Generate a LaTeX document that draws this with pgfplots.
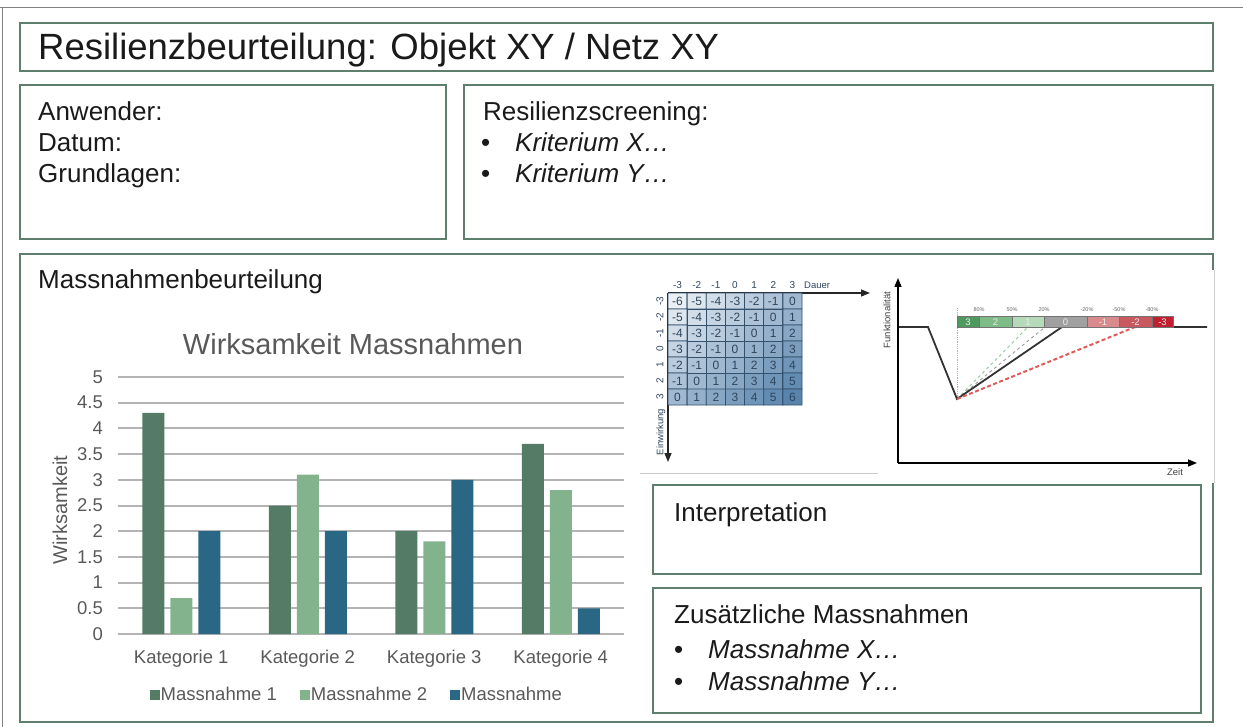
\documentclass[border=0pt]{standalone}
\usepackage{fontspec}
\setmainfont{Liberation Sans}
\usepackage{pgfplots}
\pgfplotsset{compat=1.18}
\usepackage{pgfplotstable}
\usetikzlibrary{arrows.meta}
\definecolor{boxc}{HTML}{5E7F6E}
\definecolor{framec}{HTML}{808080}
\definecolor{txt}{HTML}{1A1A1A}
\definecolor{cgray}{HTML}{595959}
\definecolor{gridc}{HTML}{B4B4B4}
\definecolor{mA}{HTML}{547B66}
\definecolor{mB}{HTML}{82B38D}
\definecolor{mC}{HTML}{2A6785}
\definecolor{cellb}{HTML}{34506B}
\definecolor{celltxt}{HTML}{2E455C}
\definecolor{s3}{HTML}{4E9A5E}
\definecolor{s2}{HTML}{7DBB87}
\definecolor{s1}{HTML}{B5D9B9}
\definecolor{s0}{HTML}{A0A0A0}
\definecolor{sm1}{HTML}{D98A8C}
\definecolor{sm2}{HTML}{C9585F}
\definecolor{sm3}{HTML}{C0202F}
\definecolor{dgreen}{HTML}{8CC896}
\definecolor{dred}{HTML}{E05A5A}

\pgfplotstableread{
x y c
0 0 -6
1 0 -5
2 0 -4
3 0 -3
4 0 -2
5 0 -1
6 0 0
0 1 -5
1 1 -4
2 1 -3
3 1 -2
4 1 -1
5 1 0
6 1 1
0 2 -4
1 2 -3
2 2 -2
3 2 -1
4 2 0
5 2 1
6 2 2
0 3 -3
1 3 -2
2 3 -1
3 3 0
4 3 1
5 3 2
6 3 3
0 4 -2
1 4 -1
2 4 0
3 4 1
4 4 2
5 4 3
6 4 4
0 5 -1
1 5 0
2 5 1
3 5 2
4 5 3
5 5 4
6 5 5
0 6 0
1 6 1
2 6 2
3 6 3
4 6 4
5 6 5
6 6 6
}\matrixdata

\newcommand{\body}{\fontsize{26}{31}\selectfont}

\begin{document}
\begin{tikzpicture}
\useasboundingbox (0,0) rectangle (1243pt,-727pt);
\begin{scope}[x=1pt,y=-1pt]
 % outer frame
 \draw[framec, line width=1.5pt] (0,7.5) -- (1243,7.5);
 \draw[framec, line width=1.5pt] (2.5,7.5) -- (2.5,727);
 % boxes
 \draw[boxc, line width=2pt] (20,23) rectangle (1213,71);
 \draw[boxc, line width=2pt] (20,85) rectangle (446,239);
 \draw[boxc, line width=2pt] (464,85) rectangle (1213,239);
 \draw[boxc, line width=2pt] (20,254) rectangle (1213,722);
 \fill[white] (1205,270) rectangle (1222,483);
 \draw[black!20, line width=0.8pt] (1214.5,270) -- (1214.5,483);
 \draw[boxc, line width=2pt] (653,485) rectangle (1201,574);
 \draw[boxc, line width=2pt] (653,588) rectangle (1201,713);
 % texts
 \node[anchor=base west, inner sep=0pt, text=txt, font=\fontsize{36.5}{44}\selectfont] at (38,60) {Resilienzbeurteilung: Objekt XY / Netz XY};
 \node[anchor=base west, inner sep=0pt, text=txt, font=\body] at (38,121) {Anwender:};
 \node[anchor=base west, inner sep=0pt, text=txt, font=\body] at (38,152) {Datum:};
 \node[anchor=base west, inner sep=0pt, text=txt, font=\body] at (38,183) {Grundlagen:};
 \node[anchor=base west, inner sep=0pt, text=txt, font=\body] at (483,121) {Resilienzscreening:};
 \node[anchor=base west, inner sep=0pt, text=txt, font=\body] at (481,152) {•};
 \node[anchor=base west, inner sep=0pt, text=txt, font=\body\itshape] at (515,152) {Kriterium X…};
 \node[anchor=base west, inner sep=0pt, text=txt, font=\body] at (481,183) {•};
 \node[anchor=base west, inner sep=0pt, text=txt, font=\body\itshape] at (515,183) {Kriterium Y…};
 \node[anchor=base west, inner sep=0pt, text=txt, font=\body] at (38,289) {Massnahmenbeurteilung};
 \node[anchor=base west, inner sep=0pt, text=txt, font=\body] at (674,521) {Interpretation};
 \node[anchor=base west, inner sep=0pt, text=txt, font=\body] at (674,623) {Zusätzliche Massnahmen};
 \node[anchor=base west, inner sep=0pt, text=txt, font=\body] at (674,658) {•};
 \node[anchor=base west, inner sep=0pt, text=txt, font=\body\itshape] at (708,658) {Massnahme X…};
 \node[anchor=base west, inner sep=0pt, text=txt, font=\body] at (674,690) {•};
 \node[anchor=base west, inner sep=0pt, text=txt, font=\body\itshape] at (708,690) {Massnahme Y…};
 % chart title and y label
 \node[anchor=base, inner sep=0pt, text=cgray, font=\fontsize{29}{35}\selectfont] at (353,355) {Wirksamkeit Massnahmen};
 \node[rotate=90, anchor=center, inner sep=0pt, text=cgray, font=\fontsize{20}{24}\selectfont] at (60,510) {Wirksamkeit};
 % matrix decorations
 \draw[black!85, line width=1.4pt, -{Triangle[length=9pt,width=7pt]}] (668,293) -- (870,293);
 \draw[black!85, line width=1.4pt, -{Triangle[length=9pt,width=7pt]}] (668,293) -- (668,462);
 \draw[black!20, line width=0.8pt] (640,473) -- (878,473);
 \foreach \j/\l in {0/-3,1/-2,2/-1,3/0,4/1,5/2,6/3}{
   \node[inner sep=0pt, text=celltxt, font=\fontsize{10}{12}\selectfont] at (677.6+19.14*\j,285) {\l};
   \node[rotate=90, inner sep=0pt, text=celltxt, font=\fontsize{10}{12}\selectfont] at (660,301+16*\j) {\l};
 }
 \node[anchor=west, inner sep=0pt, text=celltxt, font=\fontsize{9.5}{11}\selectfont] at (804,285) {Dauer};
 \node[rotate=90, inner sep=0pt, text=celltxt, font=\fontsize{9.5}{11}\selectfont] at (661,432) {Einwirkung};
 % functionality diagram texts (image px coords)
 \foreach \m/\l in {979/80\%,1012/50\%,1044/20\%,1087/-20\%,1119/-50\%,1152/-80\%}{
   \node[inner sep=0pt, text=black!60, font=\fontsize{5.5}{6}\selectfont] at (\m,310) {\l};
 }
 \node[rotate=90, inner sep=0pt, text=black!75, font=\fontsize{9.5}{11}\selectfont] at (887,320) {Funktionalität};
 \node[inner sep=0pt, text=black!75, font=\fontsize{9.5}{11}\selectfont] at (1175,472) {Zeit};
\end{scope}

% ---------------- bar chart ----------------
\begin{axis}[
  at={(118pt,-634pt)}, anchor=south west,
  scale only axis, width=506pt, height=257pt,
  xmin=-0.5, xmax=3.5, ymin=0, ymax=5,
  ybar=6pt, bar width=22pt,
  axis line style={draw=none},
  major tick length=0pt,
  ytick={0,0.5,1,1.5,2,2.5,3,3.5,4,4.5,5},
  yticklabels={0,0.5,1,1.5,2,2.5,3,3.5,4,4.5,5},
  xtick={0,1,2,3},
  xticklabels={Kategorie 1,Kategorie 2,Kategorie 3,Kategorie 4},
  ymajorgrids, grid style={gridc, line width=2pt},
  yticklabel style={anchor=east, inner sep=0pt, xshift=-15pt, font=\fontsize{18.5}{22}\selectfont, text=cgray},
  xticklabel style={anchor=center, inner sep=0pt, yshift=-25pt, font=\fontsize{18.5}{22}\selectfont, text=cgray},
  legend style={at={(0.471,-0.237)}, anchor=center, draw=none, fill=none, inner sep=0pt,
     legend columns=3, font=\color{cgray}\fontsize{18.5}{22}\selectfont,
     /tikz/every even column/.append style={column sep=22pt},
     cells={anchor=west}, nodes={inner sep=1pt}},
  legend image code/.code={\fill[#1] (0pt,-5pt) rectangle (10pt,5pt);},
]
\addplot[fill=mA, draw=none] coordinates {(0,4.3) (1,2.5) (2,2.0) (3,3.7)};
\addlegendentry{Massnahme 1}
\addplot[fill=mB, draw=none] coordinates {(0,0.7) (1,3.1) (2,1.8) (3,2.8)};
\addlegendentry{Massnahme 2}
\addplot[fill=mC, draw=none] coordinates {(0,2.0) (1,2.0) (2,3.0) (3,0.5)};
\addlegendentry{Massnahme}
\end{axis}

% ---------------- matrix ----------------
\begin{axis}[
  at={(668pt,-405pt)}, anchor=south west,
  scale only axis, width=134pt, height=112pt,
  xmin=-0.5, xmax=6.5, ymin=-0.5, ymax=6.5, y dir=reverse,
  hide axis, clip=false,
  colormap={bl}{rgb255=(234,239,244) rgb255=(88,132,172)},
  point meta min=-6, point meta max=6,
]
\addplot[matrix plot*, mesh/cols=7, point meta=explicit, draw=cellb, line width=0.8pt] table[meta=c] {\matrixdata};
\addplot[draw=none, mark=none, point meta=explicit symbolic, nodes near coords,
   nodes near coords style={anchor=center, inner sep=0pt, font=\fontsize{12}{14}\selectfont, text=celltxt}] table[meta=c] {\matrixdata};
\end{axis}

% ---------------- functionality diagram ----------------
\begin{axis}[
  at={(898pt,-463pt)}, anchor=south west,
  scale only axis, width=299pt, height=185pt,
  xmin=0, xmax=299, ymin=0, ymax=185,
  hide axis, clip=false,
]
\addplot[black!30, densely dotted, line width=0.8pt] coordinates {(59,64) (59,155)};
\addplot[dgreen, dashed, line width=0.9pt] coordinates {(59,64) (130,136)};
\addplot[black!40, dashed, line width=0.9pt] coordinates {(59,64) (147,136)};
\addplot[black!80, line width=1.8pt] coordinates {(0,136) (30,136) (59,64) (164,136) (309,136)};
\addplot[dred, dash pattern=on 4pt off 2.5pt, line width=2pt] coordinates {(59,64) (237,136)};
\addplot[fill=s3, draw=black!55, line width=0.5pt] coordinates {(59,136) (81,136) (81,146.5) (59,146.5)} --cycle;
\addplot[fill=s2, draw=black!55, line width=0.5pt] coordinates {(81,136) (114,136) (114,146.5) (81,146.5)} --cycle;
\addplot[fill=s1, draw=black!55, line width=0.5pt] coordinates {(114,136) (146,136) (146,146.5) (114,146.5)} --cycle;
\addplot[fill=s0, draw=black!55, line width=0.5pt] coordinates {(146,136) (189,136) (189,146.5) (146,146.5)} --cycle;
\addplot[fill=sm1, draw=black!55, line width=0.5pt] coordinates {(189,136) (221,136) (221,146.5) (189,146.5)} --cycle;
\addplot[fill=sm2, draw=black!55, line width=0.5pt] coordinates {(221,136) (254,136) (254,146.5) (221,146.5)} --cycle;
\addplot[fill=sm3, draw=black!55, line width=0.5pt] coordinates {(254,136) (275,136) (275,146.5) (254,146.5)} --cycle;
\draw[black, line width=1.4pt, -{Triangle[length=9pt,width=7pt]}] (axis cs:0,0) -- (axis cs:299,0);
\draw[black, line width=1.4pt, -{Triangle[length=9pt,width=7pt]}] (axis cs:0,0) -- (axis cs:0,185);
\end{axis}

% segment labels on top of the colour bar
\begin{scope}[x=1pt,y=-1pt]
 \foreach \m/\l in {968/3,995.5/2,1028/1,1065.5/0,1103/-1,1135.5/-2,1162.5/-3}{
   \node[inner sep=0pt, text=white!92!black, font=\fontsize{9.5}{10}\selectfont] at (\m,322) {\l};
 }
\end{scope}
\end{tikzpicture}
\end{document}
